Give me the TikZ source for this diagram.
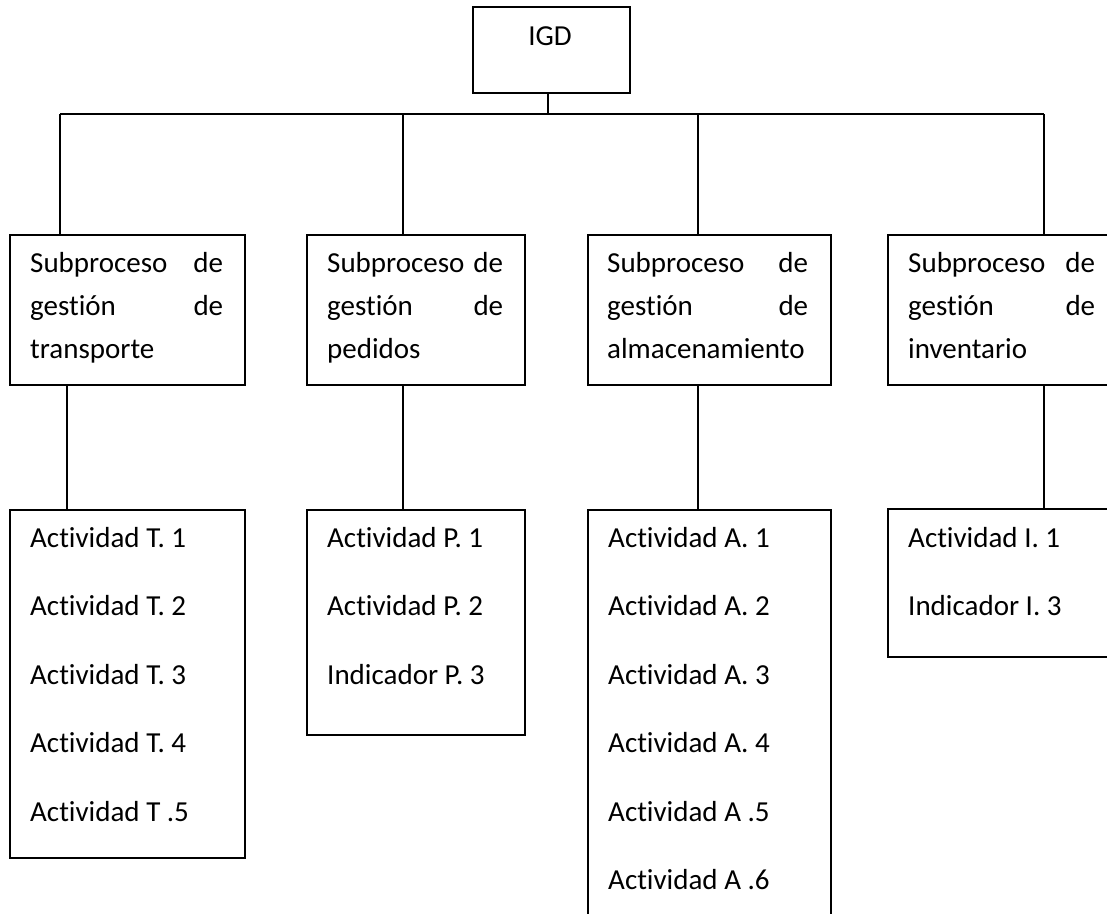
\documentclass[tikz,border=0pt]{standalone}
\usepackage{fontspec}
\setmainfont{Carlito}[Ligatures={NoCommon}]
\begin{document}
\begin{tikzpicture}[x=1pt,y=-1pt,
  box/.style={draw, line width=1.8pt, inner sep=0pt, anchor=north west},
  conn/.style={line width=1.3pt},
  txt/.style={inner sep=0pt, anchor=base west, font=\fontsize{29}{35}\selectfont}]
\useasboundingbox (0,0) rectangle (1107,913);
\clip (0,0) rectangle (1107,913);
\fill[white] (0,0) rectangle (1107,913);

% top box
\node[box, minimum width=157pt, minimum height=86pt] (IGD) at (472,6) {};
\node[txt, anchor=base] (igdt) at (550,45) {IGD};

% subprocess boxes
\node[box, minimum width=235pt, minimum height=150pt] (S1) at (9,234) {};
\node[box, minimum width=218pt, minimum height=150pt] (S2) at (306,234) {};
\node[box, minimum width=243pt, minimum height=150pt] (S3) at (587,234) {};
\node[box, minimum width=240pt, minimum height=150pt] (S4) at (887,234) {};

% activity boxes
\node[box, minimum width=235pt, minimum height=348pt] (T) at (9,509) {};
\node[box, minimum width=218pt, minimum height=225pt] (P) at (306,509) {};
\node[box, minimum width=243pt, minimum height=420pt] (A) at (587,509) {};
\node[box, minimum width=240pt, minimum height=148pt] (I) at (887,508) {};

% subprocess texts (justified)
\node[txt] (s1a) at (30,272) {\hbox to 193pt{Subproceso\hfill de}};
\node[txt] (s1b) at (30,315) {\hbox to 193pt{gestión\hfill de}};
\node[txt] (s1c) at (30,358) {transporte};
\node[txt] (s2a) at (327,272) {\hbox to 176pt{Subproceso\hfill de}};
\node[txt] (s2b) at (327,315) {\hbox to 176pt{gestión\hfill de}};
\node[txt] (s2c) at (327,358) {pedidos};
\node[txt] (s3a) at (607,272) {\hbox to 201pt{Subproceso\hfill de}};
\node[txt] (s3b) at (607,315) {\hbox to 201pt{gestión\hfill de}};
\node[txt] (s3c) at (607,358) {almacenamiento};
\node[txt] (s4a) at (908,272) {\hbox to 187pt{Subproceso\hfill de}};
\node[txt] (s4b) at (908,315) {\hbox to 187pt{gestión\hfill de}};
\node[txt] (s4c) at (908,358) {inventario};

% activity texts
\foreach \t [count=\i from 0] in {Actividad T. 1, Actividad T. 2, Actividad T. 3, Actividad T. 4, Actividad T .5}
  \node[txt] (tT\i) at (30,{547+68.5*\i}) {\t};
\foreach \t [count=\i from 0] in {Actividad P. 1, Actividad P. 2, Indicador P. 3}
  \node[txt] (tP\i) at (327,{547+68.5*\i}) {\t};
\foreach \t [count=\i from 0] in {Actividad A. 1, Actividad A. 2, Actividad A. 3, Actividad A. 4, Actividad A .5, Actividad A .6}
  \node[txt] (tA\i) at (608,{547+68.5*\i}) {\t};
\foreach \t [count=\i from 0] in {Actividad I. 1, Indicador I. 3}
  \node[txt] (tI\i) at (908,{547+68.5*\i}) {\t};

% connectors
\coordinate (b1) at (60,114);
\coordinate (b2) at (403,114);
\coordinate (b3) at (698,114);
\coordinate (b4) at (1044,114);
\draw[conn] (IGD.south -| 548,0) -- (b1 -| 548,0);
\draw[conn] (b1) -- (b4);
\draw[conn] (b1) -- (b1 |- S1.north);
\draw[conn] (b2) -- (b2 |- S2.north);
\draw[conn] (b3) -- (b3 |- S3.north);
\draw[conn] (b4) -- (b4 |- S4.north);
\draw[conn] (S1.south -| 67,0) -- (T.north -| 67,0);
\draw[conn] (S2.south -| 403,0) -- (P.north -| 403,0);
\draw[conn] (S3.south -| 698,0) -- (A.north -| 698,0);
\draw[conn] (S4.south -| 1044,0) -- (I.north -| 1044,0);
\end{tikzpicture}
\end{document}
